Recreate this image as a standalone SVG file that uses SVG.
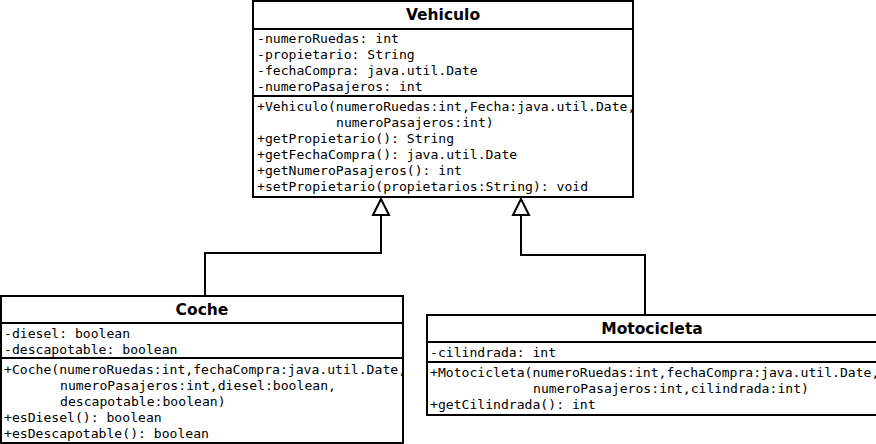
<svg xmlns="http://www.w3.org/2000/svg" width="876" height="444" viewBox="0 0 876 444">
<style>
.box{fill:#fff;stroke:#000;stroke-width:2}
.sep{stroke:#000;stroke-width:2}
.t{font-family:"DejaVu Sans Mono",monospace;font-size:13.1px;fill:#000}
.h{font-family:"DejaVu Sans",sans-serif;font-size:15.5px;font-weight:bold;text-anchor:middle;fill:#000}
.c{fill:none;stroke:#000;stroke-width:2}
.tri{fill:#fff;stroke:#000;stroke-width:2}
</style>
<rect width="876" height="444" fill="#fff"/>
<g id="connectors">
<polyline class="c" points="205,296 205,253 381,253 381,215"/>
<polygon class="tri" points="381,199 373,215 389,215"/>
<polyline class="c" points="645,315 645,255 521,255 521,215"/>
<polygon class="tri" points="521,199 513,215 529,215"/>
</g>
<g id="Vehiculo">
<rect class="box" x="253" y="1" width="380" height="196"/>
<line class="sep" x1="253" y1="29" x2="633" y2="29"/>
<line class="sep" x1="253" y1="96" x2="633" y2="96"/>
<text class="h" x="443" y="20">Vehiculo</text>
<text class="t" x="257" y="43">-numeroRuedas: int</text>
<text class="t" x="257" y="59">-propietario: String</text>
<text class="t" x="257" y="75">-fechaCompra: java.util.Date</text>
<text class="t" x="257" y="91">-numeroPasajeros: int</text>
<text class="t" x="257" y="111">+Vehiculo(numeroRuedas:int,Fecha:java.util.Date,</text>
<text class="t" x="336" y="127">numeroPasajeros:int)</text>
<text class="t" x="257" y="143">+getPropietario(): String</text>
<text class="t" x="257" y="159">+getFechaCompra(): java.util.Date</text>
<text class="t" x="257" y="175">+getNumeroPasajeros(): int</text>
<text class="t" x="257" y="191">+setPropietario(propietarios:String): void</text>
</g>
<g id="Coche">
<rect class="box" x="1" y="296" width="402" height="147"/>
<line class="sep" x1="1" y1="323" x2="403" y2="323"/>
<line class="sep" x1="1" y1="358" x2="403" y2="358"/>
<text class="h" x="202" y="315">Coche</text>
<text class="t" x="4" y="338">-diesel: boolean</text>
<text class="t" x="4" y="354">-descapotable: boolean</text>
<text class="t" x="4" y="374">+Coche(numeroRuedas:int,fechaCompra:java.util.Date,</text>
<text class="t" x="60" y="390">numeroPasajeros:int,diesel:boolean,</text>
<text class="t" x="60" y="406">descapotable:boolean)</text>
<text class="t" x="4" y="422">+esDiesel(): boolean</text>
<text class="t" x="4" y="438">+esDescapotable(): boolean</text>
</g>
<g id="Motocicleta">
<rect class="box" x="427" y="315" width="450" height="100"/>
<line class="sep" x1="427" y1="342" x2="877" y2="342"/>
<line class="sep" x1="427" y1="362" x2="877" y2="362"/>
<text class="h" x="652" y="334">Motocicleta</text>
<text class="t" x="430" y="357">-cilindrada: int</text>
<text class="t" x="430" y="377">+Motocicleta(numeroRuedas:int,fechaCompra:java.util.Date,</text>
<text class="t" x="533" y="393">numeroPasajeros:int,cilindrada:int)</text>
<text class="t" x="430" y="409">+getCilindrada(): int</text>
</g>
</svg>
